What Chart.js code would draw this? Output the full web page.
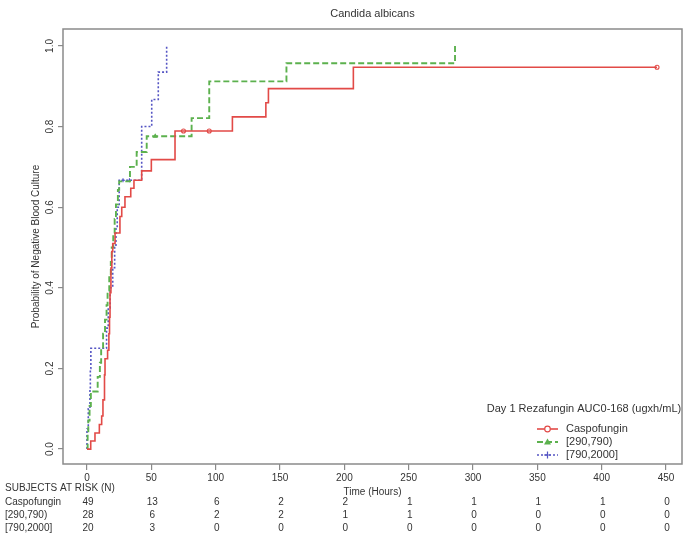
<!DOCTYPE html>
<html>
<head>
<meta charset="utf-8">
<script src="https://cdn.jsdelivr.net/npm/chart.js@4"></script>
<style>
html,body{margin:0;padding:0;background:#fff;}
#wrap{width:692px;height:538px;position:relative;}
</style>
</head>
<body>
<div id="wrap"><canvas id="c" width="692" height="538"></canvas></div>
<script>
// ---------- data ----------
const chartTitle = 'Candida albicans';
const xTitle = 'Time (Hours)';
const yTitle = 'Probability of Negative Blood Culture';
const legendTitle = 'Day 1 Rezafungin AUC0-168 (ugxh/mL)';
const riskHeader = 'SUBJECTS AT RISK (N)';
const xTicks = [0, 50, 100, 150, 200, 250, 300, 350, 400, 450];
const yTicks = [0.0, 0.2, 0.4, 0.6, 0.8, 1.0];
const groupNames = ['Caspofungin', '[290,790)', '[790,2000]'];

// Caspofungin (red, solid)
const caspoTimes = [0, 2.9, 6.2, 9.6, 11.4, 12.4, 13.6, 14, 16, 17, 17.5, 17.9, 18.6, 19.3, 20, 21.8, 25.6, 27, 29.5, 34, 36.5, 42.5, 50, 68.4, 113, 139, 141, 207, 443];
const caspoProb  = [0, 0.02, 0.04, 0.061, 0.082, 0.122, 0.184, 0.224, 0.245, 0.286, 0.327, 0.388, 0.449, 0.49, 0.51, 0.536, 0.577, 0.60, 0.626, 0.647, 0.667, 0.69, 0.718, 0.789, 0.824, 0.859, 0.894, 0.947, 0.947];
const caspoCensor = [75, 95, 443];

// [290,790) (green, dashed)
const midTimes = [0, 0.5, 1, 2, 3, 8.3, 10, 11, 12.5, 14, 15.2, 16, 17.3, 18.5, 19.2, 20.4, 21.5, 22.5, 24, 25, 33.4, 38.6, 46.4, 81.3, 95, 155, 286];
const midProb  = [0, 0.036, 0.071, 0.107, 0.143, 0.179, 0.214, 0.25, 0.286, 0.321, 0.357, 0.393, 0.429, 0.464, 0.5, 0.536, 0.571, 0.607, 0.643, 0.664, 0.70, 0.737, 0.776, 0.821, 0.912, 0.957, 1.0];
const midCensor = [53];

// [790,2000] (blue, dotted)
const highTimes = [0, 0, 1, 2.3, 2.6, 3, 15.2, 16.5, 18, 20, 21.5, 22.5, 23.5, 25, 42.5, 50.3, 55.4, 61.9];
const highProb  = [0, 0.05, 0.10, 0.15, 0.20, 0.25, 0.30, 0.35, 0.40, 0.45, 0.50, 0.55, 0.60, 0.667, 0.80, 0.867, 0.935, 1.0];
const highCensor = [28, 33];

// subjects at risk
const riskCaspo = [49, 13, 6, 2, 2, 1, 1, 1, 1, 0];
const riskMid   = [28, 6, 2, 2, 1, 1, 0, 0, 0, 0];
const riskHigh  = [20, 3, 0, 0, 0, 0, 0, 0, 0, 0];

// ---------- helpers ----------
const FONT = '"Liberation Sans", Arial, Helvetica, sans-serif';
const TXT = '#333';
const colors = ['#e24a47', '#5cb14e', '#5555c4'];
const dashes = [[], [6, 3], [2, 2]];
const widths = [1.6, 1.9, 1.6];
const markers = ['circle', 'triangle', 'cross'];

function pts(ts, ps) { return ts.map((t, i) => ({x: t, y: ps[i]})); }
function stepAt(ts, ps, t) {
  let v = ps[0];
  for (let i = 0; i < ts.length; i++) { if (ts[i] <= t) v = ps[i]; }
  return v;
}
function censorPts(cs, ts, ps) { return cs.map(t => ({x: t, y: stepAt(ts, ps, t)})); }

const series = [
  {t: caspoTimes, p: caspoProb, c: caspoCensor},
  {t: midTimes, p: midProb, c: midCensor},
  {t: highTimes, p: highProb, c: highCensor}
];
const risks = [riskCaspo, riskMid, riskHigh];

const datasets = [];
series.forEach((s, i) => {
  datasets.push({
    type: 'line', label: groupNames[i], data: pts(s.t, s.p),
    stepped: 'before', borderColor: colors[i], borderWidth: widths[i],
    borderDash: dashes[i], pointRadius: 0, fill: false, tension: 0,
    _marker: markers[i]
  });
});
series.forEach((s, i) => {
  datasets.push({
    type: 'scatter', label: groupNames[i] + ' censored', data: censorPts(s.c, s.t, s.p),
    showLine: false, pointStyle: markers[i], pointRadius: 2,
    borderColor: colors[i], backgroundColor: i === 0 ? 'rgba(255,255,255,0)' : colors[i],
    pointBorderWidth: 1.1
  });
});

// ---------- plugins ----------
const framePlugin = {
  id: 'frame',
  afterDraw(chart) {
    const {ctx, chartArea: a} = chart;
    ctx.save();
    ctx.strokeStyle = '#8a8a8a';
    ctx.lineWidth = 1.5;
    ctx.strokeRect(a.left, a.top, a.right - a.left, a.bottom - a.top);
    ctx.fillStyle = TXT;
    ctx.font = '11px ' + FONT;
    ctx.textAlign = 'center';
    ctx.textBaseline = 'middle';
    ctx.fillText(chartTitle, (a.left + a.right) / 2, 14);
    ctx.restore();
  }
};

const legendPlugin = {
  id: 'kmLegend',
  afterDraw(chart) {
    const {ctx} = chart;
    ctx.save();
    ctx.fillStyle = TXT;
    ctx.font = '11px ' + FONT;
    ctx.textAlign = 'center';
    ctx.textBaseline = 'middle';
    ctx.fillText(legendTitle, 584, 409);
    const rowY = [429, 442, 455];
    for (let i = 0; i < 3; i++) {
      const ds = chart.data.datasets[i];
      const y = rowY[i];
      const mx = 547.5;
      ctx.strokeStyle = ds.borderColor;
      ctx.lineWidth = ds.borderWidth;
      ctx.setLineDash(ds.borderDash);
      ctx.beginPath(); ctx.moveTo(537, y); ctx.lineTo(558, y); ctx.stroke();
      ctx.setLineDash([]);
      ctx.lineWidth = 1.2;
      ctx.fillStyle = ds.borderColor;
      ctx.strokeStyle = ds.borderColor;
      if (ds._marker === 'triangle') {
        ctx.beginPath();
        ctx.moveTo(mx, y - 3.5); ctx.lineTo(mx + 3.5, y + 2.5); ctx.lineTo(mx - 3.5, y + 2.5); ctx.closePath(); ctx.fill();
      } else if (ds._marker === 'circle') {
        ctx.fillStyle = '#fff';
        ctx.beginPath(); ctx.arc(mx, y, 2.8, 0, Math.PI * 2); ctx.fill(); ctx.stroke();
      } else {
        ctx.beginPath(); ctx.moveTo(mx - 3.5, y); ctx.lineTo(mx + 3.5, y); ctx.moveTo(mx, y - 3.5); ctx.lineTo(mx, y + 3.5); ctx.stroke();
      }
      ctx.fillStyle = TXT;
      ctx.textAlign = 'left';
      ctx.fillText(ds.label, 566, y);
    }
    ctx.restore();
  }
};

const riskPlugin = {
  id: 'riskTable',
  afterDraw(chart) {
    const {ctx} = chart;
    const xs = chart.scales.x;
    ctx.save();
    ctx.fillStyle = TXT;
    ctx.font = '10px ' + FONT;
    ctx.textBaseline = 'middle';
    ctx.textAlign = 'left';
    ctx.fillText(riskHeader, 5, 488);
    const rowY = [502, 515, 528];
    risks.forEach((row, r) => {
      ctx.textAlign = 'left';
      ctx.fillText(groupNames[r], 5, rowY[r]);
      ctx.textAlign = 'center';
      row.forEach((n, k) => {
        ctx.fillText(String(n), xs.getPixelForValue(xTicks[k]) + 1, rowY[r]);
      });
    });
    ctx.restore();
  }
};

// ---------- chart ----------
new Chart(document.getElementById('c'), {
  type: 'line',
  data: {datasets},
  options: {
    responsive: false,
    animation: false,
    devicePixelRatio: 1,
    layout: {padding: {top: 29, right: 10, left: 0, bottom: 0}},
    plugins: {legend: {display: false}, tooltip: {enabled: false}, title: {display: false}},
    scales: {
      x: {
        type: 'linear', min: -18.65, max: 462.4,
        afterBuildTicks: s => { s.ticks = xTicks.map(v => ({value: v})); },
        afterFit: s => { s.height = 74; },
        ticks: {autoSkip: false, maxRotation: 0, minRotation: 0, padding: 2,
                font: {family: FONT, size: 10}, color: TXT, callback: v => String(v)},
        grid: {drawOnChartArea: false, drawTicks: true, tickLength: 6, color: '#8a8a8a', lineWidth: 1.2},
        border: {display: false},
        title: {display: true, text: xTitle, font: {family: FONT, size: 10}, color: TXT,
                padding: {top: 0, bottom: 40}}
      },
      y: {
        type: 'linear', min: -0.037, max: 1.042,
        afterBuildTicks: s => { s.ticks = yTicks.map(v => ({value: v})); },
        afterFit: s => { s.width = 63; },
        ticks: {autoSkip: false, minRotation: 90, maxRotation: 90, crossAlign: 'center', padding: 1,
                font: {family: FONT, size: 10}, color: TXT, callback: v => Number(v).toFixed(1)},
        grid: {drawOnChartArea: false, drawTicks: true, tickLength: 5, color: '#8a8a8a', lineWidth: 1.2},
        border: {display: false},
        title: {display: true, text: yTitle, font: {family: FONT, size: 10}, color: TXT,
                padding: {top: 30, bottom: 0}}
      }
    }
  },
  plugins: [framePlugin, legendPlugin, riskPlugin]
});
</script>
</body>
</html>
